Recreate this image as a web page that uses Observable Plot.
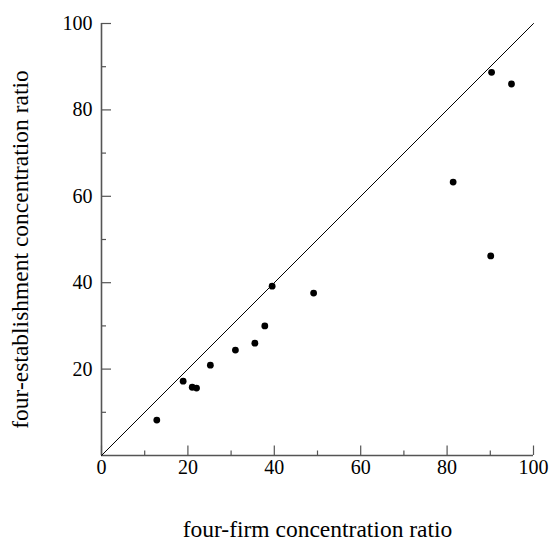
<!DOCTYPE html>
<html><head><meta charset="utf-8">
<script src="https://cdn.jsdelivr.net/npm/d3@7"></script>
<script src="https://cdn.jsdelivr.net/npm/@observablehq/plot@0.6"></script>
<style>html,body{margin:0;padding:0;background:#fff} svg{display:block}</style>
</head><body><div id="chart"></div>
<script>
const fourFirm = [12.8, 18.9, 21.0, 22.0, 25.2, 31.0, 35.5, 37.8, 39.5, 49.1, 81.4, 90.1, 90.3, 94.9];
const fourEstablishment = [8.2, 17.2, 15.8, 15.6, 20.9, 24.4, 26.0, 30.0, 39.2, 37.6, 63.3, 46.2, 88.7, 86.0];
const xMajorTicks = [0, 20, 40, 60, 80, 100];
const xMinorTicks = [10, 30, 50, 70, 90];
const yMajorTicks = [20, 40, 60, 80, 100];
const yMinorTicks = [10, 30, 50, 70, 90];
const diagonal = [0, 100];
const xTitle = "four-firm concentration ratio";
const yTitle = "four-establishment concentration ratio";

const W = 552, H = 542;
const mT = 23, mB = 87, mL = 101, mR = 19;
const fw = W - mL - mR, fh = H - mT - mB;
const axisColor = "#555";
const serif = "'Liberation Serif', 'Times New Roman', Times, serif";

const points = fourFirm.map((x, i) => ({x, y: fourEstablishment[i]}));

const chart = Plot.plot({
  width: W, height: H,
  marginTop: mT, marginBottom: mB, marginLeft: mL, marginRight: mR,
  style: {fontFamily: serif, fontSize: "20px", color: "black", background: "white"},
  x: {domain: [0, 100]},
  y: {domain: [0, 100]},
  marks: [
    Plot.ruleX(xMajorTicks, {x: d => d, insetTop: fh - 9.5, stroke: axisColor, strokeWidth: 1.2}),
    Plot.ruleX(xMinorTicks, {x: d => d, insetTop: fh - 4.5, stroke: axisColor, strokeWidth: 1.2}),
    Plot.ruleY(yMajorTicks, {y: d => d, insetRight: fw - 10, stroke: axisColor, strokeWidth: 1.2}),
    Plot.ruleY(yMinorTicks, {y: d => d, insetRight: fw - 5, stroke: axisColor, strokeWidth: 1.2}),
    Plot.ruleX([0], {stroke: axisColor, strokeWidth: 1.6}),
    Plot.ruleY([0], {stroke: axisColor, strokeWidth: 1.6}),
    Plot.line(diagonal, {x: d => d, y: d => d, stroke: "black", strokeWidth: 1}),
    Plot.dot(points, {x: "x", y: "y", r: 3.4, fill: "black", stroke: "none"}),
    Plot.axisX(xMajorTicks, {tickSize: 0, tickPadding: 4, fontSize: 20, fontFamily: serif, fontVariant: "normal", label: null}),
    Plot.axisY(yMajorTicks, {tickSize: 0, tickPadding: 9, fontSize: 20, fontFamily: serif, fontVariant: "normal", label: null}),
    Plot.text([xTitle], {text: d => d, frameAnchor: "bottom", textAnchor: "middle", lineAnchor: "middle", dy: 74, fontSize: 23.5, fontFamily: serif}),
    Plot.text([yTitle], {text: d => d, frameAnchor: "left", textAnchor: "middle", lineAnchor: "middle", rotate: -90, dx: -81, dy: 10, fontSize: 23.5, fontFamily: serif})
  ]
});
document.getElementById("chart").appendChild(chart);
</script>
</body></html>
